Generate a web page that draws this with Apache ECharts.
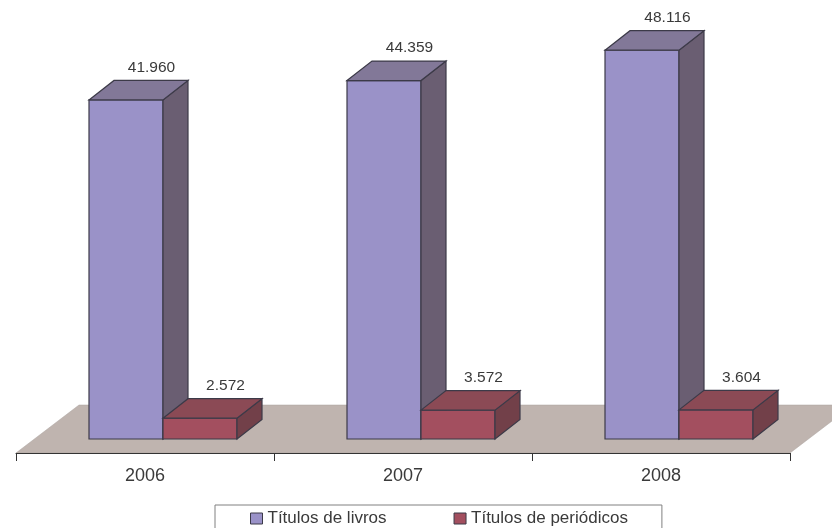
<!DOCTYPE html>
<html><head><meta charset="utf-8">
<style>html,body{margin:0;padding:0;background:#fff}#c{width:832px;height:528px}</style>
<script src="https://cdn.jsdelivr.net/npm/echarts@6/dist/echarts.min.js"></script>
</head><body><div id="c"></div>
<script>
const categories = ['2006','2007','2008'];
const seriesNames = ['Títulos de livros','Títulos de periódicos'];
const livros = [41960,44359,48116];
const periodicos = [2572,3572,3604];

const chart = echarts.init(document.getElementById('c'),null,{renderer:'canvas'});
const DX=25, DY=19.5, BW=74, OFFS=18;
const LINE='#3c3a48', TXT='#3a3a3a', FONT='"Liberation Sans", Arial, sans-serif';
function fmt(v){return String(v).replace(/\B(?=(\d{3})+$)/g,'.');}
function bar3d(side,front,top,right){
  return function(params,api){
    const cat=api.value(0), val=api.value(1);
    const base=api.coord([cat,0]), head=api.coord([cat,val]);
    const cx=base[0]+OFFS;
    const x0=side===0?cx-BW:cx, x1=x0+BW;
    const b=base[1], t=head[1];
    const st=c=>({fill:c,stroke:LINE,lineWidth:1.2});
    const poly=(pts,c)=>({type:'polygon',shape:{points:pts},style:st(c)});
    return {type:'group',children:[
      poly([[x0,t],[x1,t],[x1,b],[x0,b]],front),
      poly([[x1,t],[x1+DX,t-DY],[x1+DX,b-DY],[x1,b]],right),
      poly([[x0,t],[x0+DX,t-DY],[x1+DX,t-DY],[x1,t]],top),
      {type:'text',style:{text:fmt(val),x:(x0+x1)/2+DX+0.5,y:t-DY-13,align:'center',verticalAlign:'middle',
        fill:TXT,font:'15.5px '+FONT}}
    ]};
  };
}
function bars(name,data,side,c){
  return {name,type:'custom',coordinateSystem:'cartesian2d',clip:false,z:2+side,
    itemStyle:{color:c[0]},encode:{x:0,y:1},
    data:data.map((v,i)=>[i,v]),renderItem:bar3d(side,c[0],c[1],c[2])};
}
chart.setOption({
  animation:false,backgroundColor:'#fff',
  grid:{left:16,right:42,top:35,bottom:89,containLabel:false},
  xAxis:{type:'category',data:categories,offset:14,
    axisLine:{show:true,onZero:false,lineStyle:{color:'#333',width:1}},
    axisTick:{show:true,alignWithLabel:false,length:8,lineStyle:{color:'#333'}},
    axisLabel:{color:TXT,fontSize:18,fontFamily:FONT,margin:14},splitLine:{show:false}},
  yAxis:{type:'value',min:0,max:50000,show:false},
  legend:{left:215,top:505,orient:'horizontal',
    data:seriesNames,icon:'rect',itemWidth:12,itemHeight:11,itemGap:67,
    borderColor:'#808080',borderWidth:1,padding:[5,34,12,35],
    itemStyle:{borderColor:LINE,borderWidth:1},
    textStyle:{color:TXT,fontSize:17,fontFamily:FONT}},
  series:[
    {type:'custom',coordinateSystem:'cartesian2d',clip:false,z:0,silent:true,data:[[0,0]],legendHoverLink:false,
     renderItem(params,api){
       const g=params.coordSys, fy=g.y+g.height+14, by=g.y+g.height-34, d=63;
       return {type:'polygon',shape:{points:[[g.x,fy],[g.x+d,by],[g.x+g.width+d,by],[g.x+g.width,fy]]},
         style:{fill:'#BFB4AF',stroke:'#aaa39e',lineWidth:0.5}};
     }},
    bars(seriesNames[0],livros,0,['#9A92C8','#827898','#6A5E72']),
    bars(seriesNames[1],periodicos,1,['#A34F5F','#8B4A55','#724049'])
  ]
});
</script></body></html>
